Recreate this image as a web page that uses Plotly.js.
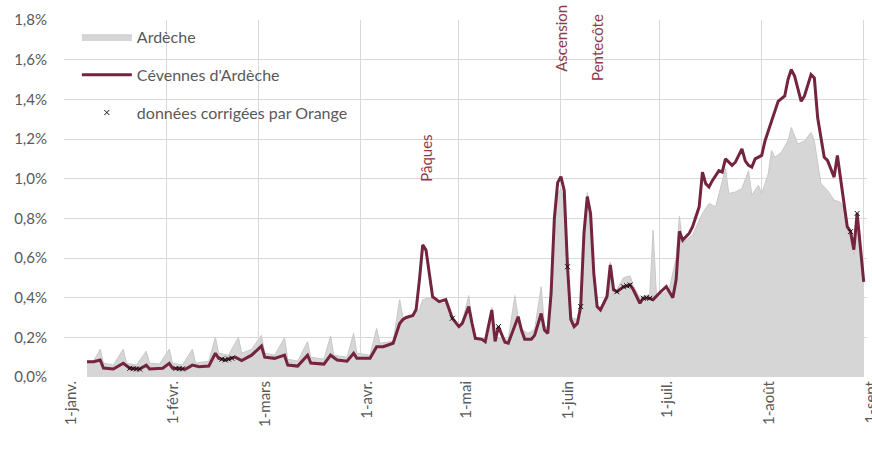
<!DOCTYPE html>
<html><head><meta charset="utf-8">
<script src="https://cdn.plot.ly/plotly-2.35.2.min.js"></script>
<style>html,body{margin:0;padding:0;background:#fff}#chart{width:872px;height:456px}</style>
</head><body><div id="chart"></div>
<script>
// Ardèche (grey area), % share
const ardecheDates = ['2019-01-08','2019-01-10','2019-01-12','2019-01-13','2019-01-16','2019-01-19','2019-01-20','2019-01-23','2019-01-26','2019-01-27','2019-01-30','2019-02-02','2019-02-03','2019-02-06','2019-02-09','2019-02-10','2019-02-14','2019-02-16','2019-02-17','2019-02-20','2019-02-23','2019-02-24','2019-02-27','2019-03-02','2019-03-03','2019-03-06','2019-03-09','2019-03-10','2019-03-13','2019-03-16','2019-03-17','2019-03-21','2019-03-23','2019-03-24','2019-03-28','2019-03-30','2019-03-31','2019-04-04','2019-04-06','2019-04-07','2019-04-11','2019-04-13','2019-04-14','2019-04-15','2019-04-17','2019-04-19','2019-04-20','2019-04-22','2019-04-24','2019-04-26','2019-04-27','2019-04-29','2019-05-01','2019-05-02','2019-05-04','2019-05-05','2019-05-06','2019-05-09','2019-05-11','2019-05-12','2019-05-14','2019-05-16','2019-05-18','2019-05-19','2019-05-20','2019-05-22','2019-05-24','2019-05-26','2019-05-27','2019-05-28','2019-05-29','2019-05-30','2019-05-31','2019-06-01','2019-06-02','2019-06-03','2019-06-04','2019-06-06','2019-06-07','2019-06-08','2019-06-09','2019-06-10','2019-06-11','2019-06-12','2019-06-13','2019-06-15','2019-06-16','2019-06-17','2019-06-18','2019-06-20','2019-06-22','2019-06-23','2019-06-25','2019-06-27','2019-06-28','2019-06-29','2019-06-30','2019-07-02','2019-07-04','2019-07-06','2019-07-07','2019-07-08','2019-07-11','2019-07-14','2019-07-16','2019-07-18','2019-07-21','2019-07-22','2019-07-24','2019-07-26','2019-07-28','2019-07-29','2019-07-31','2019-08-01','2019-08-03','2019-08-04','2019-08-05','2019-08-07','2019-08-09','2019-08-10','2019-08-12','2019-08-14','2019-08-16','2019-08-17','2019-08-19','2019-08-21','2019-08-23','2019-08-25','2019-08-26','2019-08-27','2019-08-28','2019-08-29','2019-08-30','2019-08-31','2019-09-01'];
const ardeche = [0.080,0.080,0.140,0.070,0.060,0.140,0.070,0.060,0.130,0.070,0.065,0.140,0.070,0.060,0.140,0.070,0.080,0.200,0.120,0.110,0.200,0.120,0.140,0.210,0.120,0.110,0.197,0.090,0.080,0.178,0.100,0.090,0.207,0.110,0.100,0.220,0.120,0.110,0.245,0.170,0.180,0.390,0.300,0.300,0.310,0.340,0.390,0.400,0.390,0.370,0.370,0.300,0.260,0.280,0.410,0.270,0.200,0.190,0.350,0.200,0.190,0.190,0.410,0.300,0.240,0.220,0.240,0.455,0.260,0.240,0.400,0.750,0.920,0.950,0.880,0.550,0.300,0.290,0.370,0.700,0.930,0.820,0.500,0.360,0.350,0.420,0.580,0.450,0.440,0.500,0.510,0.460,0.400,0.410,0.420,0.740,0.420,0.420,0.450,0.600,0.810,0.675,0.717,0.825,0.875,0.858,1.050,0.925,0.933,0.950,1.040,0.917,0.967,0.925,1.025,1.142,1.108,1.133,1.192,1.258,1.175,1.190,1.233,1.190,0.975,0.942,0.892,0.880,0.850,0.740,0.700,0.620,0.800,0.640,0.470];

// Cévennes d'Ardèche (purple line), % share
const cevennesDates = ['2019-01-08','2019-01-10','2019-01-12','2019-01-13','2019-01-16','2019-01-19','2019-01-21','2019-01-24','2019-01-26','2019-01-27','2019-01-31','2019-02-02','2019-02-03','2019-02-07','2019-02-09','2019-02-11','2019-02-14','2019-02-16','2019-02-17','2019-02-19','2019-02-22','2019-02-24','2019-02-27','2019-03-02','2019-03-03','2019-03-05','2019-03-06','2019-03-09','2019-03-10','2019-03-13','2019-03-16','2019-03-17','2019-03-21','2019-03-23','2019-03-25','2019-03-28','2019-03-30','2019-03-31','2019-04-04','2019-04-06','2019-04-08','2019-04-11','2019-04-13','2019-04-14','2019-04-15','2019-04-17','2019-04-18','2019-04-19','2019-04-20','2019-04-21','2019-04-22','2019-04-23','2019-04-25','2019-04-27','2019-04-29','2019-05-01','2019-05-02','2019-05-04','2019-05-05','2019-05-06','2019-05-08','2019-05-09','2019-05-11','2019-05-12','2019-05-13','2019-05-15','2019-05-16','2019-05-19','2019-05-20','2019-05-21','2019-05-23','2019-05-24','2019-05-26','2019-05-27','2019-05-28','2019-05-29','2019-05-30','2019-05-31','2019-06-01','2019-06-02','2019-06-03','2019-06-04','2019-06-05','2019-06-06','2019-06-07','2019-06-08','2019-06-09','2019-06-10','2019-06-11','2019-06-12','2019-06-13','2019-06-15','2019-06-16','2019-06-17','2019-06-18','2019-06-20','2019-06-22','2019-06-23','2019-06-25','2019-06-26','2019-06-28','2019-06-29','2019-07-01','2019-07-03','2019-07-05','2019-07-06','2019-07-07','2019-07-08','2019-07-10','2019-07-11','2019-07-13','2019-07-14','2019-07-15','2019-07-16','2019-07-17','2019-07-19','2019-07-20','2019-07-21','2019-07-23','2019-07-24','2019-07-26','2019-07-27','2019-07-28','2019-07-29','2019-07-30','2019-08-01','2019-08-02','2019-08-04','2019-08-06','2019-08-08','2019-08-09','2019-08-10','2019-08-11','2019-08-13','2019-08-14','2019-08-16','2019-08-17','2019-08-18','2019-08-20','2019-08-21','2019-08-23','2019-08-24','2019-08-26','2019-08-27','2019-08-28','2019-08-29','2019-08-30','2019-08-31','2019-09-01'];
const cevennes = [0.077,0.077,0.086,0.045,0.040,0.069,0.044,0.040,0.060,0.040,0.044,0.069,0.044,0.040,0.060,0.052,0.055,0.120,0.094,0.086,0.100,0.083,0.110,0.156,0.100,0.094,0.094,0.110,0.060,0.055,0.110,0.070,0.065,0.110,0.086,0.080,0.120,0.094,0.094,0.153,0.153,0.170,0.270,0.290,0.300,0.310,0.340,0.490,0.666,0.640,0.520,0.405,0.380,0.390,0.296,0.254,0.270,0.355,0.270,0.195,0.190,0.178,0.338,0.180,0.254,0.175,0.170,0.304,0.237,0.190,0.190,0.210,0.320,0.237,0.220,0.420,0.800,0.980,1.010,0.940,0.556,0.290,0.254,0.270,0.355,0.725,0.910,0.825,0.520,0.355,0.338,0.405,0.565,0.440,0.430,0.455,0.464,0.440,0.372,0.397,0.397,0.390,0.425,0.456,0.400,0.490,0.735,0.690,0.725,0.758,0.858,1.033,0.975,0.958,0.990,1.040,1.033,1.100,1.067,1.083,1.150,1.090,1.067,1.058,1.100,1.117,1.190,1.290,1.390,1.417,1.500,1.550,1.517,1.390,1.417,1.525,1.508,1.308,1.108,1.092,1.008,1.117,0.892,0.758,0.733,0.642,0.825,0.658,0.480];

// Données corrigées par Orange (crosses)
const corrDates = ['2019-01-21','2019-01-22','2019-01-23','2019-01-24','2019-02-04','2019-02-05','2019-02-06','2019-02-18','2019-02-19','2019-02-20','2019-02-21','2019-04-29','2019-05-13','2019-06-03','2019-06-07','2019-06-18','2019-06-20','2019-06-21','2019-06-22','2019-06-26','2019-06-27','2019-06-28','2019-08-28','2019-08-30'];
const corr = [0.044,0.042,0.040,0.040,0.043,0.042,0.041,0.090,0.086,0.090,0.095,0.296,0.254,0.556,0.355,0.430,0.455,0.460,0.464,0.397,0.400,0.397,0.733,0.825];

// Axis ticks
const monthTicks = ['2019-01-01','2019-02-01','2019-03-01','2019-04-01','2019-05-01','2019-06-01','2019-07-01','2019-08-01','2019-09-01'];
const monthLabels = ['1-janv.','1-févr.','1-mars','1-avr.','1-mai','1-juin','1-juil.','1-août','1-sept'];
const yTicks = [0,0.2,0.4,0.6,0.8,1.0,1.2,1.4,1.6,1.8];
const yLabels = ['0,0%','0,2%','0,4%','0,6%','0,8%','1,0%','1,2%','1,4%','1,6%','1,8%'];

// Holiday annotations
const holidayNames = ['Pâques','Ascension','Pentecôte'];
const holidayDates = ['2019-04-21','2019-06-01','2019-06-12'];
const holidayY = [1.10,1.71,1.66];

const FONT = 'Lato, "Open Sans", sans-serif';
const traces = [
  {x: ardecheDates, y: ardeche, name: 'Ardèche', type: 'scatter', mode: 'lines',
   fill: 'tozeroy', fillcolor: '#d6d6d6', line: {color: '#c8c8c8', width: 1},
   legendgroup: 'a'},
  {x: cevennesDates, y: cevennes, name: "Cévennes d'Ardèche", type: 'scatter', mode: 'lines',
   line: {color: '#74243f', width: 3}, legendgroup: 'b'},
  {x: corrDates, y: corr, name: 'données corrigées par Orange', type: 'scatter', mode: 'markers',
   marker: {symbol: 'x-thin', size: 5, color: '#111', line: {color: '#111', width: 1}}, legendgroup: 'c'}
];
const annotations = holidayNames.map((t, i) => ({
  x: holidayDates[i], y: holidayY[i], xref: 'x', yref: 'y', text: t, showarrow: false,
  textangle: -90, font: {family: FONT, size: 15, color: '#8e3a47'}
}));
const layout = {
  width: 872, height: 456,
  margin: {l: 64, r: 5, t: 20, b: 79},
  paper_bgcolor: '#fff', plot_bgcolor: '#fff',
  font: {family: FONT, size: 15, color: '#595959'},
  showlegend: true,
  legend: {x: 0.016, y: 1.0, xanchor: 'left', yanchor: 'top', bgcolor: 'rgba(0,0,0,0)',
    traceorder: 'grouped', tracegroupgap: 14, itemwidth: 50,
    font: {family: FONT, size: 16, color: '#595959'}},
  xaxis: {type: 'date', range: ['2019-01-01', '2019-09-02'], tickmode: 'array',
    tickvals: monthTicks, ticktext: monthLabels, tickangle: -90, showgrid: true,
    gridcolor: '#d9d9d9', gridwidth: 1, zeroline: false, showline: false, ticks: '',
    ticklabelshift: 7, ticklabelstandoff: 0, ticklabeloverflow: 'allow',
    tickfont: {family: FONT, size: 15, color: '#595959'}},
  yaxis: {range: [0, 1.8], tickmode: 'array', tickvals: yTicks, ticktext: yLabels,
    showgrid: true, gridcolor: '#d9d9d9', gridwidth: 1, zeroline: false, showline: false, ticks: '',
    ticklabelstandoff: 16, tickfont: {family: FONT, size: 15, color: '#595959'}},
  annotations: annotations
};
Plotly.newPlot('chart', traces, layout, {displayModeBar: false, staticPlot: true});
</script></body></html>
